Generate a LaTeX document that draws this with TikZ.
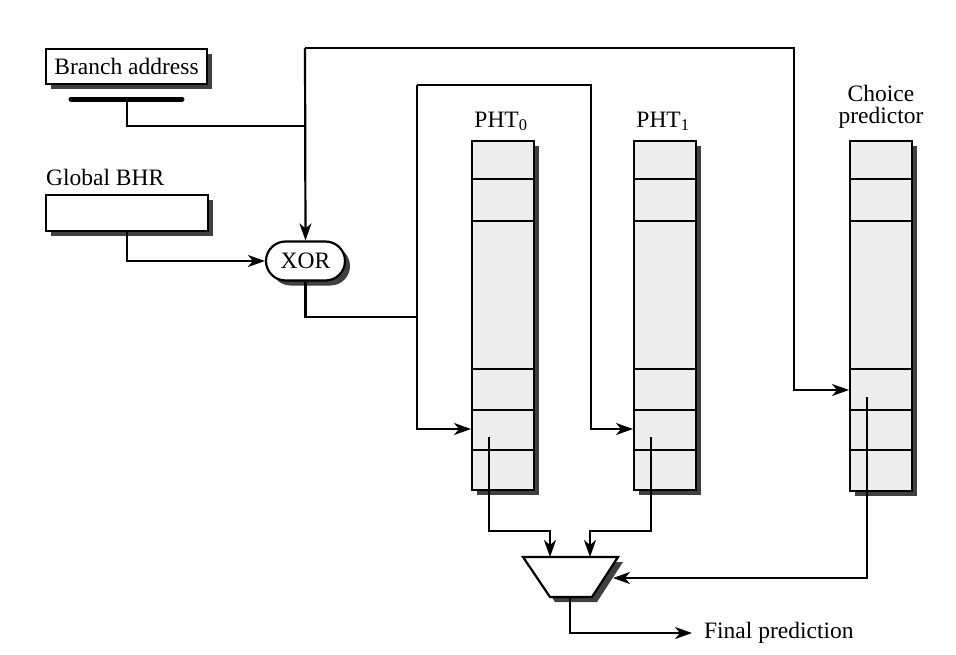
\documentclass[tikz,border=0pt]{standalone}
\usepackage{fontspec}
\setmainfont{Liberation Serif}
\usetikzlibrary{shapes.misc,shadows,arrows.meta}
\begin{document}
\begin{tikzpicture}[x=1pt,y=-1pt, line width=2.2pt,
  txt/.style={font=\fontsize{23.5}{22}\selectfont, inner sep=0pt},
  arr/.style={-{Stealth[length=17pt,width=12pt,inset=5pt]}},
  shad/.style={drop shadow={shadow xshift=5pt,shadow yshift=-5pt,fill=black!75,opacity=1}},
  regbox/.style={draw,fill=white,shad,inner sep=0pt,anchor=north west,font=\fontsize{23.5}{22}\selectfont},
  tbl/.style={draw,fill=gray!14,shad,inner sep=0pt,anchor=north west,minimum width=62pt,minimum height=349pt},
  ]
\useasboundingbox (0,0) rectangle (956,654);
\fill[white] (0,0) rectangle (956,654);

% inputs
\node[regbox,minimum width=161pt,minimum height=35pt] (ba) at (45,48) {Branch address};
\node[txt,anchor=base west] (bhrl) at (45,185) {Global BHR};
\node[regbox,minimum width=162pt,minimum height=36pt] (bhr) at (45,194) {};
\coordinate (barL) at (71,99);
\coordinate (barR) at (182,99);
\coordinate (bar) at (127,99);
\draw[line width=5pt,line cap=round] (barL) -- (barR);

% XOR
\node[rounded rectangle,draw,fill=white,shad,inner sep=0pt,minimum width=79pt,minimum height=39pt,font=\fontsize{23.5}{22}\selectfont] (xor) at (305.5,261) {XOR};

% tables
\node[tbl] (pht0) at (471,140) {};
\node[tbl] (pht1) at (633,140) {};
\node[tbl,minimum height=350pt] (ch) at (849,140) {};
\foreach \t in {pht0,pht1,ch}
  \foreach \d in {39,81,229,270,310}
    \draw[line width=1.8pt] ([yshift=-\d pt]\t.north west) -- ([yshift=-\d pt]\t.north east);

\node[txt,anchor=base] (l0) at (501,127) {PHT\textsubscript{0}};
\node[txt,anchor=base] (l1) at (663,127) {PHT\textsubscript{1}};
\node[txt,anchor=south,align=center] (lc) at (881,130) {Choice\\predictor};

% mux
\fill[black!75] (528,562) -- (623,562) -- (597,602) -- (555,602) -- cycle;
\draw[fill=white,line join=miter] (523,557) -- (618,557) -- (592,597) -- (550,597) -- cycle;
\coordinate (muxin0) at (550,557);
\coordinate (muxin1) at (590,557);
\coordinate (muxsel) at (613,578);
\coordinate (muxout) at (570,597);

\node[txt,anchor=west,inner xsep=11pt] (fp) at (692,633) {Final prediction};

% junction coordinates
\coordinate (topc) at (305,48);
\coordinate (cR) at (794,48);
\coordinate (jBA) at (305,126);
\coordinate (j1) at (417,317);
\coordinate (p0top) at (417,85);
\coordinate (p1top) at (591,85);
\coordinate (in0) at (471,429);
\coordinate (in1) at (633,429);
\coordinate (inc) at (849,390);
\coordinate (o0) at (489,437);
\coordinate (o1) at (651,437);
\coordinate (oc) at (867,397);
\coordinate (k0) at (550,531);
\coordinate (k1) at (590,531);

% connectors
\draw (bar) |- (jBA);
\draw[arr] (topc) -- (xor.north);
\draw[arr] (topc) -- (cR) |- (inc);
\draw[arr] (bhr.south) |- (xor.west);
\draw (xor.south) |- (j1);
\draw[arr] (p0top) |- (in0);
\draw[arr] (p0top) -- (p1top) |- (in1);
\draw[arr] (o0) |- (k0) -- (muxin0);
\draw[arr] (o1) |- (k1) -- (muxin1);
\draw[arr] (oc) |- (muxsel);
\draw[arr] (muxout) |- (fp.west);
\end{tikzpicture}
\end{document}
